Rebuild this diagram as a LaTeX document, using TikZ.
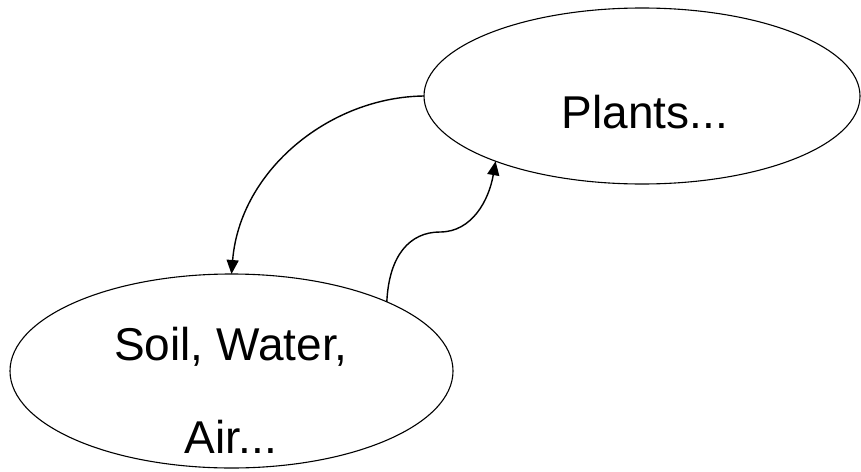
\documentclass[tikz,border=0pt]{standalone}
\usepackage{fontspec}
\setmainfont{Liberation Sans}
\usetikzlibrary{shapes.geometric,arrows.meta}
\begin{document}
\begin{tikzpicture}[x=1pt,y=-1pt,
  oval/.style={ellipse,draw=black,line width=1.1pt,inner sep=0pt,outer sep=0pt},
  lbl/.style={anchor=base,inner sep=0pt,font=\fontsize{46}{56}\selectfont},
  link/.style={line width=1.4pt,-{Triangle[length=14pt,width=12pt]}}]
\useasboundingbox (0,0) rectangle (861,471);
\node[oval,minimum width=436pt,minimum height=176pt] (plants) at (642,96) {};
\node[oval,minimum width=443pt,minimum height=194pt] (soil) at (231.5,371) {};
\node[lbl] (tp) at (645,128) {Plants...};
\node[lbl] (ts1) at (231,360) {Soil, Water,};
\node[lbl] (ts2) at (231,453) {Air...};
\draw[link] (plants.west) .. controls (330,97) and (240,170) .. (soil.north);
\coordinate (mid) at (440,232);
\draw[link] (soil.24) .. controls (389,255) and (410,232) .. (mid) .. controls (472,232) and (489,200) .. (plants.204);
\end{tikzpicture}
\end{document}
